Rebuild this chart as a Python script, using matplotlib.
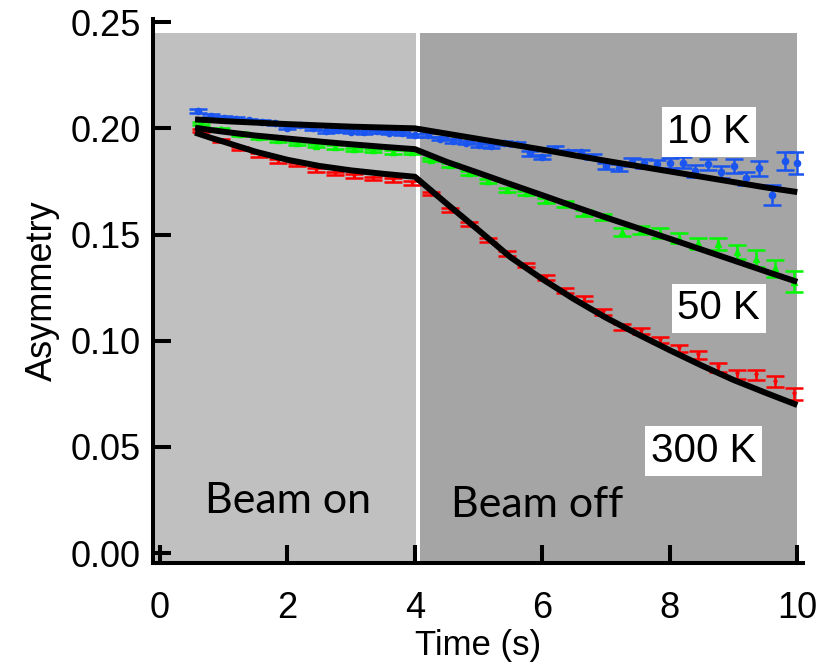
import matplotlib
matplotlib.use("Agg")
import matplotlib.pyplot as plt
import numpy as np

# ---------------- data ----------------
t_10K = [0.6, 0.8, 1.0, 1.2, 1.4, 1.6, 1.8, 2.0, 2.2, 2.4, 2.6, 2.8, 3.0, 3.2, 3.4, 3.6, 3.8, 4.0,
         4.2, 4.4, 4.6, 4.8, 5.0, 5.2, 5.4, 5.6, 5.8, 6.0, 6.2, 6.4, 6.6, 6.8, 7.0, 7.2, 7.4, 7.6,
         7.8, 8.0, 8.2, 8.4, 8.6, 8.8, 9.0, 9.2, 9.4, 9.6, 9.8, 10.0]
a_10K = [0.2082, 0.2059, 0.2051, 0.2046, 0.2039, 0.2030, 0.2023, 0.2004, 0.2015, 0.2000, 0.1987, 0.1992,
         0.1985, 0.1982, 0.1987, 0.1980, 0.1977, 0.1968,
         0.1968, 0.1952, 0.1941, 0.1932, 0.1921, 0.1916, 0.1932, 0.1926, 0.1882, 0.1866, 0.1904, 0.1888,
         0.1888, 0.1866, 0.1822, 0.1815, 0.1842, 0.1835, 0.1830, 0.1838, 0.1839, 0.1798, 0.1830, 0.1795,
         0.1822, 0.1764, 0.1811, 0.1686, 0.1846, 0.1835]
e_10K = [0.0010, 0.0007, 0.0007, 0.0007, 0.0007, 0.0007, 0.0007, 0.0007, 0.0007, 0.0007, 0.0007, 0.0007,
         0.0007, 0.0007, 0.0007, 0.0007, 0.0007, 0.0007,
         0.0008, 0.0008, 0.0008, 0.0008, 0.0008, 0.0009, 0.0009, 0.0009, 0.0010, 0.0010, 0.0011, 0.0011,
         0.0012, 0.0012, 0.0013, 0.0015, 0.0019, 0.0020, 0.0021, 0.0024, 0.0025, 0.0029, 0.0028, 0.0030,
         0.0032, 0.0030, 0.0035, 0.0045, 0.0042, 0.0052]

t_50K = [0.65, 0.95, 1.25, 1.55, 1.85, 2.15, 2.45, 2.75, 3.05, 3.35, 3.65, 3.95,
         4.25, 4.55, 4.85, 5.15, 5.45, 5.75, 6.05, 6.35, 6.65, 6.95, 7.25, 7.55, 7.85, 8.15,
         8.45, 8.75, 9.05, 9.35, 9.65, 9.95]
a_50K = [0.2024, 0.1995, 0.1973, 0.1957, 0.1944, 0.1929, 0.1919, 0.1913, 0.1901, 0.1897, 0.1889, 0.1887,
         0.1853, 0.1827, 0.1791, 0.1751, 0.1709, 0.1696, 0.1662, 0.1643, 0.1602, 0.1583, 0.1513, 0.1521,
         0.1508, 0.1484, 0.1458, 0.1455, 0.1419, 0.1387, 0.1340, 0.1277]
e_50K = [0.0008, 0.0008, 0.0008, 0.0008, 0.0008, 0.0008, 0.0008, 0.0008, 0.0008, 0.0008, 0.0008, 0.0008,
         0.0009, 0.0009, 0.0010, 0.0010, 0.0011, 0.0011, 0.0012, 0.0013, 0.0014, 0.0015, 0.0019, 0.0020,
         0.0023, 0.0024, 0.0026, 0.0029, 0.0033, 0.0038, 0.0042, 0.0050]

t_300K = [0.65, 0.95, 1.25, 1.55, 1.85, 2.15, 2.45, 2.75, 3.05, 3.35, 3.65, 3.95,
          4.25, 4.55, 4.85, 5.15, 5.45, 5.75, 6.05, 6.35, 6.65, 6.95, 7.25, 7.55, 7.85, 8.15,
          8.45, 8.75, 9.05, 9.35, 9.65, 9.95]
a_300K = [0.1991, 0.1944, 0.1905, 0.1874, 0.1847, 0.1831, 0.1803, 0.1788, 0.1775, 0.1764, 0.1756, 0.1743,
          0.1693, 0.1615, 0.1549, 0.1474, 0.1411, 0.1356, 0.1298, 0.1238, 0.1199, 0.1136, 0.1066, 0.1047,
          0.1003, 0.0964, 0.0932, 0.0874, 0.0841, 0.0838, 0.0807, 0.0749]
e_300K = [0.0008, 0.0008, 0.0008, 0.0008, 0.0008, 0.0008, 0.0008, 0.0008, 0.0008, 0.0008, 0.0008, 0.0008,
          0.0009, 0.0009, 0.0009, 0.0010, 0.0010, 0.0011, 0.0011, 0.0012, 0.0012, 0.0013, 0.0014, 0.0015,
          0.0016, 0.0017, 0.0018, 0.0020, 0.0021, 0.0023, 0.0025, 0.0030]

# fitted curves
tfit_on = [0.55, 0.8, 1.0, 1.5, 2.0, 2.5, 3.0, 3.5, 4.0]
fit_on_10K = [0.2042, 0.2038, 0.2034, 0.2027, 0.2020, 0.2014, 0.2008, 0.2004, 0.2000]
fit_on_50K = [0.2003, 0.1992, 0.1984, 0.1966, 0.1952, 0.1938, 0.1925, 0.1913, 0.1902]
fit_on_300K = [0.1980, 0.1955, 0.1937, 0.1890, 0.1852, 0.1823, 0.1802, 0.1786, 0.1772]
tfit_off = [4.0, 4.5, 5.0, 5.5, 6.0, 6.5, 7.0, 7.5, 8.0, 8.5, 9.0, 9.5, 10.0]
fit_off_10K = [0.2000, 0.1975, 0.1950, 0.1925, 0.1900, 0.1873, 0.1847, 0.1822, 0.1797, 0.1772, 0.1747, 0.1722, 0.1700]
fit_off_50K = [0.1897, 0.1842, 0.1790, 0.1737, 0.1685, 0.1632, 0.1580, 0.1530, 0.1480, 0.1429, 0.1378, 0.1327, 0.1277]
fit_off_300K = [0.1772, 0.1645, 0.1520, 0.1393, 0.1290, 0.1195, 0.1108, 0.1030, 0.0955, 0.0883, 0.0815, 0.0755, 0.0697]

xticks = [0, 2, 4, 6, 8, 10]
yticks = [0.00, 0.05, 0.10, 0.15, 0.20, 0.25]

# ---------------- figure ----------------
fig = plt.figure(figsize=(8.32, 6.66), dpi=100)
ax = fig.add_axes([153 / 832, (666 - 563) / 666, 650 / 832, (563 - 19) / 666])
ax.set_xlim(-0.11, 10.09)
ax.set_ylim(-0.0047, 0.2515)

light = "#c0c0c0"
dark = "#a5a5a5"
ax.fill_between([-0.08, 4.02], -0.0047, 0.2448, color=light, lw=0, zorder=0)
ax.fill_between([4.08, 10.0], -0.0047, 0.2448, color=dark, lw=0, zorder=0)

blue = "#1a55f0"
green = "#00f800"
red = "#ff0000"
ek = dict(ls="none", elinewidth=1.8, capthick=1.8, capsize=6.5, zorder=2)
ax.errorbar(t_10K, a_10K, yerr=e_10K, color=blue, marker="o", ms=4.5, **ek)
ax.errorbar(t_50K, a_50K, yerr=e_50K, color=green, marker="^", ms=4, **ek)
ax.errorbar(t_300K, a_300K, yerr=e_300K, color=red, marker="v", ms=2.5, **ek)

for fon, foff in [(fit_on_10K, fit_off_10K), (fit_on_50K, fit_off_50K), (fit_on_300K, fit_off_300K)]:
    ax.plot(tfit_on + tfit_off[1:], fon + foff[1:], color="black", lw=4.3,
            solid_joinstyle="round", solid_capstyle="butt", zorder=3)

# spines & ticks
for s in ["top", "right"]:
    ax.spines[s].set_visible(False)
for s in ["left", "bottom"]:
    ax.spines[s].set_linewidth(2.9)
    ax.spines[s].set_color("black")
ax.set_xticks(xticks)
ax.set_yticks(yticks)
ax.set_yticklabels([f"{v:.2f}" for v in yticks])
ax.tick_params(axis="both", direction="in", length=13, width=2.9, labelsize=26)
ax.tick_params(axis="y", pad=9)
ax.tick_params(axis="x", pad=20)
for lab in ax.get_xticklabels() + ax.get_yticklabels():
    lab.set_fontfamily("Liberation Sans")

ax.set_xlabel("Time (s)", fontsize=25, family="Liberation Sans", labelpad=2)
ax.set_ylabel("Asymmetry", fontsize=26, family="Liberation Sans", labelpad=7)

box = dict(facecolor="white", edgecolor="none", pad=4)
ax.text(7.96, 0.1983, "10 K", fontsize=29, family="Liberation Sans", ha="left", va="center", bbox=box, zorder=4)
ax.text(8.12, 0.1152, "50 K", fontsize=29, family="Liberation Sans", ha="left", va="center", bbox=box, zorder=4)
ax.text(7.7, 0.0481, "300 K", fontsize=29, family="Liberation Sans", ha="left", va="center", bbox=box, zorder=4)

ax.text(0.70, 0.0245, "Beam on", fontsize=31, family="Lato", ha="left", va="center", zorder=4)
ax.text(4.56, 0.0225, "Beam off", fontsize=31, family="Lato", ha="left", va="center", zorder=4)

fig.savefig("out.png", dpi=100)
